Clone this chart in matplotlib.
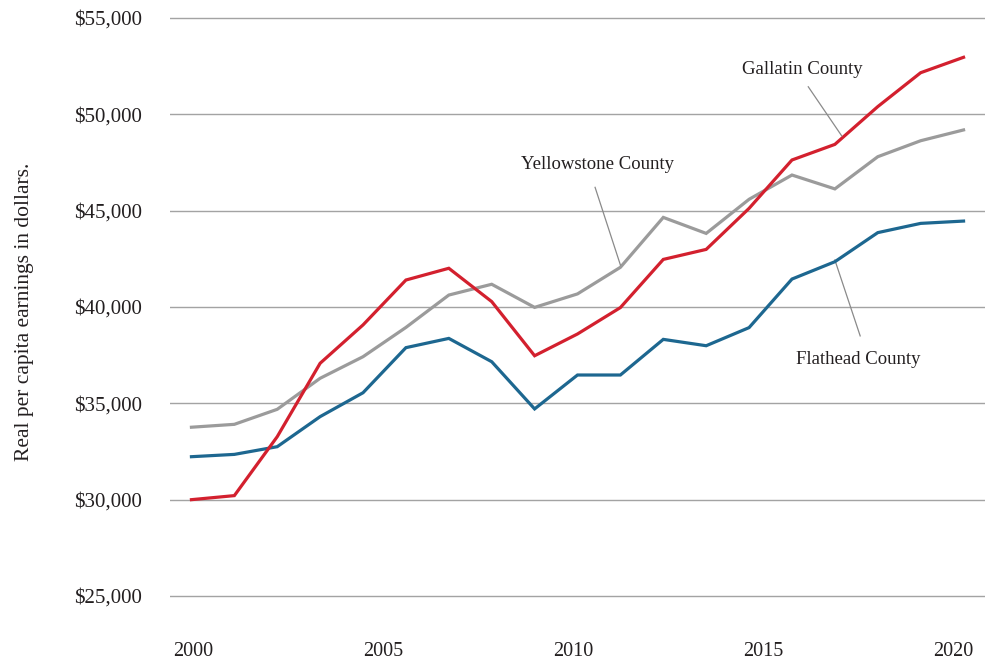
import matplotlib
matplotlib.use("Agg")
import matplotlib.pyplot as plt
import numpy as np

# ---- data ----
tick_years = ["2000", "2005", "2010", "2015", "2020"]
gallatin = [30000, 30210, 33270, 37080, 39070, 41400, 42010, 40280, 37470, 38600,
            39970, 42470, 42990, 45120, 47630, 48440, 50400, 52160, 52960]
yellowstone = [33760, 33910, 34690, 36300, 37420, 38940, 40620, 41180, 39980, 40680,
               42060, 44650, 43820, 45590, 46850, 46130, 47800, 48630, 49190]
flathead = [32230, 32350, 32750, 34310, 35550, 37890, 38370, 37160, 34710, 36470,
            36470, 38320, 37990, 38930, 41450, 42350, 43860, 44340, 44460]
y_ticks = [25000, 30000, 35000, 40000, 45000, 50000, 55000]

RED = "#d3202e"
GRAY = "#9b9b9b"
BLUE = "#1d6790"
TXT = "#231f20"
FONT = ["Liberation Serif", "DejaVu Serif"]
plt.rcParams["font.family"] = FONT

fig = plt.figure(figsize=(9.86, 6.64), dpi=100)
ax = fig.add_axes([170 / 986, 0.0879, 815 / 986, 0.8995])

x = np.arange(len(gallatin))
for yv in y_ticks:
    ax.axhline(yv, color="#a3a3a3", lw=1.0, zorder=1)

ax.plot(x, yellowstone, color=GRAY, lw=2.3, zorder=3, solid_joinstyle="miter")
ax.plot(x, flathead, color=BLUE, lw=2.3, zorder=3, solid_joinstyle="miter")
ax.plot(x, gallatin, color=RED, lw=2.3, zorder=4, solid_joinstyle="miter")

ax.set_xlim(-0.5, 18.5)
ax.set_ylim(24500, 55500)
ax.set_yticks(y_ticks)
ax.set_yticklabels([f"${v:,.0f}" for v in y_ticks])
ax.set_xticks(np.linspace(0.03, 17.76, 5))
ax.set_xticklabels(tick_years)
ax.tick_params(axis="y", length=0, pad=20, labelsize=15, labelcolor=TXT)
ax.tick_params(axis="x", length=0, pad=26, labelsize=14.5, labelcolor=TXT)
for s in ax.spines.values():
    s.set_visible(False)

fig.text(25 / 986, 1 - 312 / 664, "Real per capita earnings in dollars.", rotation=90,
         ha="center", va="center", fontsize=15.5, color=TXT)

# labels with leader lines
lead = dict(color="#8a8a8a", lw=0.9)
ax.plot([14.38, 15.16], [51430, 48880], **lead, zorder=5)
ax.text(14.24, 52350, "Gallatin County", ha="center", va="center", fontsize=13.5, color=TXT)
ax.plot([9.41, 10.0], [46210, 42180], **lead, zorder=5)
ax.text(9.46, 47420, "Yellowstone County", ha="center", va="center", fontsize=13.5, color=TXT)
ax.plot([15.0, 15.59], [42440, 38500], **lead, zorder=2)
ax.text(15.54, 37300, "Flathead County", ha="center", va="center", fontsize=13.5, color=TXT)

fig.savefig("out.png", dpi=100, facecolor="white")
